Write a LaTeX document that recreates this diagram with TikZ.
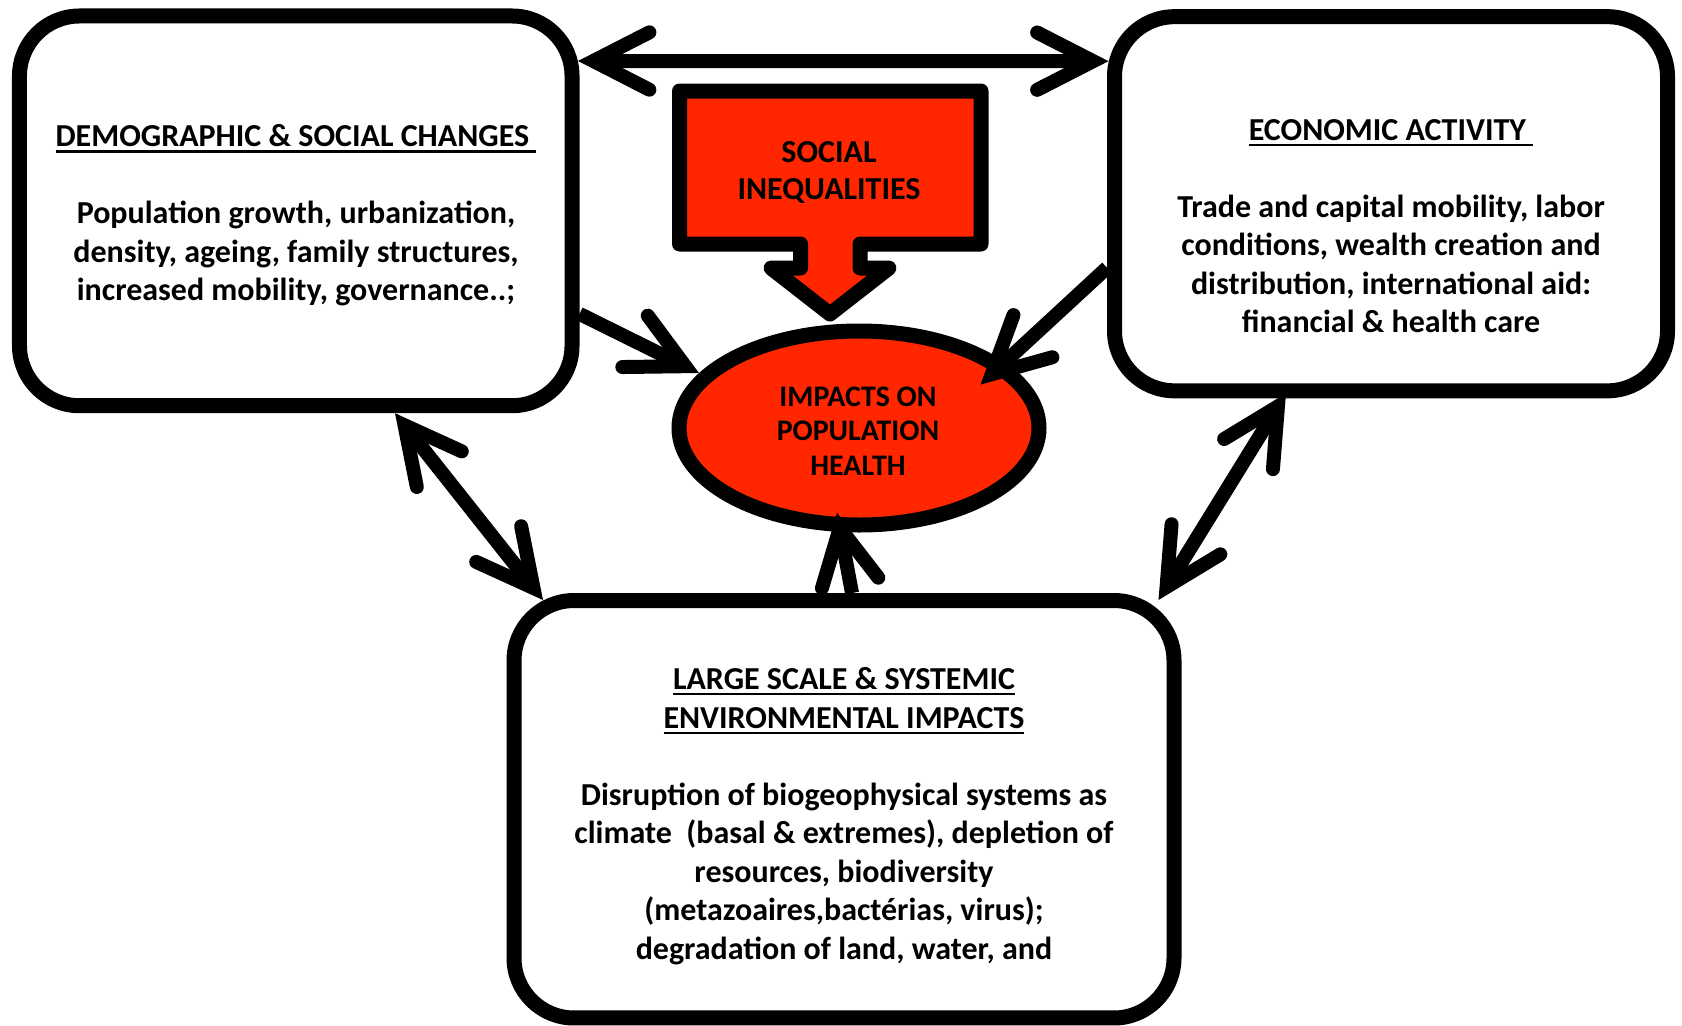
\documentclass[tikz,border=0pt]{standalone}
\usepackage{fontspec}
\setmainfont{Carlito}
\usetikzlibrary{arrows.meta,calc,shapes.geometric}

\definecolor{alarmred}{RGB}{255,38,0}

\newsavebox\headbox
\newcommand\headul[1]{\sbox\headbox{#1}\rlap{\rule[-4.5pt]{\wd\headbox}{1.8pt}}\usebox\headbox}

\tikzset{every picture/.style={line width=0.75pt}}
\tikzset{
  roundbox/.style={draw, fill=white, line width=11.25pt, rounded corners=45pt, inner sep=0pt},
  boxtext/.style={align=center, inner sep=0pt, font=\fontsize{24}{28.9}\selectfont\bfseries},
  twoway/.style={line width=10.5pt, {Straight Barb[length=42pt, width=43pt, line cap=round, line join=miter]}-{Straight Barb[length=42pt, width=43pt, line cap=round, line join=miter]}},
  oneway/.style={line width=10.5pt, -{Straight Barb[length=42pt, width=43pt, line cap=round, line join=miter]}},
}

\begin{document}
\begin{tikzpicture}[x=0.75pt,y=0.75pt,yscale=-1,xscale=1]
\useasboundingbox (0,0) rectangle (1682,1025);

%Shape: Rounded Rect
\node[roundbox, minimum width=414.4pt, minimum height=292.3pt] (demo) at (295.75,210.85) {};
\node[boxtext] (demotxt) at (296,215.5) {\headul{DEMOGRAPHIC \& SOCIAL CHANGES\ }\\[28.9pt]Population growth, urbanization,\\density, ageing, family structures,\\increased mobility, governance..;};

%Shape: Rounded Rect
\node[roundbox, minimum width=414.75pt, minimum height=280.6pt] (econ) at (1391,203.75) {};
\node[boxtext] (econtxt) at (1391,226) {\headul{ECONOMIC ACTIVITY\ }\\[28.9pt]Trade and capital mobility, labor\\conditions, wealth creation and\\distribution, international aid:\\financial \& health care};

%Shape: Rounded Rect
\node[roundbox, minimum width=495pt, minimum height=313.1pt] (env) at (844,809.25) {};
\node[boxtext] (envtxt) at (844,816) {\headul{LARGE SCALE \& SYSTEMIC}\\\headul{ENVIRONMENTAL IMPACTS}\\[28.9pt]Disruption of biogeophysical systems as\\climate\ \ (basal \& extremes), depletion of\\resources, biodiversity\\(metazoaires,bactérias, virus);\\degradation of land, water, and};

%Shape: Down Arrow Callout
\draw[fill=alarmred, line width=11.25pt, line join=round] (679.5,91) -- (981,91) -- (981,244) -- (860,244) -- (860,268) -- (889,268) -- (830,314) -- (771,268) -- (800.5,268) -- (800.5,244) -- (679.5,244) -- cycle;
\node[boxtext, font=\fontsize{24}{28.1}\selectfont\bfseries] (ineq) at (829,172.5) {SOCIAL\\INEQUALITIES};

%Shape: Ellipse
\node[draw, ellipse, fill=alarmred, line width=11.25pt, minimum width=270pt, minimum height=145.5pt, inner sep=0pt] (health) at (859,428) {};
\node[boxtext, font=\fontsize{22.4}{25.9}\selectfont\bfseries] (healthtxt) at (858,431) {IMPACTS ON\\POPULATION\\HEALTH};

%Straight Lines
\draw[twoway] ($(demo.north east)+(-1.5,52.5)$) -- ($(econ.north west)+(1.5,52)$);
\draw[oneway] ($(demo.east)+(0,103)$) -- ($(health.center)+(-160,-55)$);
\draw[oneway] ($(econ.west)+(0,64)$) -- ($(health.center)+(121.5,-43.4)$);
\draw[oneway] ($(env.north)+(8,0)$) -- ($(health.center)+(-22,84.8)$);
\draw[twoway] ($(demo.south)+(99.25,0)$) -- ($(env.north west)+(36.5,7)$);
\draw[twoway] ($(econ.south)+(-105,-5)$) -- ($(env.north east)+(-23,7)$);
\end{tikzpicture}
\end{document}
